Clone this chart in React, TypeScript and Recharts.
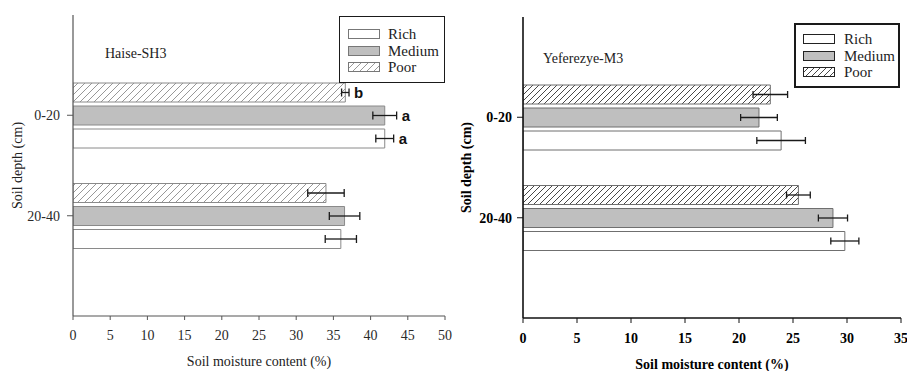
import React from "react"
import { BarChart, Bar, XAxis, YAxis, ErrorBar, LabelList, Legend } from "recharts"

const depths = ["0-20", "20-40"]

// Haise-SH3 (left panel)
const haiseRich = [41.9, 36.0]
const haiseRichErr = [1.2, 2.1]
const haiseMedium = [41.9, 36.5]
const haiseMediumErr = [1.6, 2.05]
const haisePoor = [36.6, 34.0]
const haisePoorErr = [0.5, 2.45]
const haiseRichSig = ["a", ""]
const haiseMediumSig = ["a", ""]
const haisePoorSig = ["b", ""]
const haiseTicks = [0, 5, 10, 15, 20, 25, 30, 35, 40, 45, 50]

// Yeferezye-M3 (right panel)
const yefRich = [23.9, 29.8]
const yefRichErr = [2.25, 1.3]
const yefMedium = [21.85, 28.7]
const yefMediumErr = [1.7, 1.35]
const yefPoor = [22.9, 25.5]
const yefPoorErr = [1.6, 1.1]
const yefTicks = [0, 5, 10, 15, 20, 25, 30, 35]

const legendNames = ["Rich", "Medium", "Poor"]

const SERIF = "'Liberation Serif', 'Times New Roman', serif"

const haiseData = depths.map((depth, i) => ({
  depth,
  rich: haiseRich[i],
  richErr: haiseRichErr[i],
  richSig: haiseRichSig[i],
  medium: haiseMedium[i],
  mediumErr: haiseMediumErr[i],
  mediumSig: haiseMediumSig[i],
  poor: haisePoor[i],
  poorErr: haisePoorErr[i],
  poorSig: haisePoorSig[i],
}))

const yefData = depths.map((depth, i) => ({
  depth,
  rich: yefRich[i],
  richErr: yefRichErr[i],
  richSig: "",
  medium: yefMedium[i],
  mediumErr: yefMediumErr[i],
  mediumSig: "",
  poor: yefPoor[i],
  poorErr: yefPoorErr[i],
  poorSig: "",
}))

// significance letter placed just right of the error bar
const sigLabel = (data: any[], key: string) => (props: any) => {
  const { x, y, width, height, value, index } = props
  if (!value) return null
  const row = data[index]
  const pxPerUnit = width / row[key]
  const ex = x + width + row[key + "Err"] * pxPerUnit
  return (
    <text
      x={ex + 5}
      y={y + height / 2}
      dy="0.36em"
      fontFamily="'Liberation Sans', Arial, sans-serif"
      fontWeight="bold"
      fontSize={15}
      fill="#111"
    >
      {value}
    </text>
  )
}

const XTitle = (props: any) => {
  const { viewBox, text, bold, dy } = props
  return (
    <text
      x={viewBox.x + viewBox.width / 2}
      y={viewBox.y + dy}
      textAnchor="middle"
      fontFamily={SERIF}
      fontSize={14}
      fontWeight={bold ? "bold" : "normal"}
      fill={bold ? "#000" : "#222"}
    >
      {text}
    </text>
  )
}

const YTitle = (props: any) => {
  const { viewBox, text, bold, dx } = props
  const cx = viewBox.x + dx
  const cy = viewBox.y + viewBox.height / 2
  return (
    <text
      x={cx}
      y={cy}
      transform={`rotate(-90 ${cx} ${cy})`}
      textAnchor="middle"
      dy="0.35em"
      fontFamily={SERIF}
      fontSize={14}
      fontWeight={bold ? "bold" : "normal"}
      fill={bold ? "#000" : "#222"}
    >
      {text}
    </text>
  )
}

function Panel({ cfg }: { cfg: any }) {
  const fills: any = {
    Rich: { fill: "#fff", stroke: cfg.barStroke },
    Medium: { fill: "#bfbfbf", stroke: cfg.barStroke },
    Poor: { fill: `url(#${cfg.hatchId})`, stroke: cfg.barStroke },
  }

  const renderLegend = () => (
    <div
      style={{
        width: cfg.legend.w,
        height: cfg.legend.h,
        boxSizing: "border-box",
        border: `${cfg.legend.border}px solid #1a1a1a`,
        background: "#fff",
        paddingTop: cfg.legend.padTop,
        paddingLeft: cfg.legend.padLeft,
        fontFamily: SERIF,
        fontSize: 15,
        color: "#222",
      }}
    >
      {legendNames.map((n) => (
        <div key={n} style={{ display: "flex", alignItems: "center", height: 16.5 }}>
          <svg width={32} height={10} style={{ display: "block" }}>
            <rect x={0.5} y={0.5} width={31} height={9} fill={fills[n].fill} stroke={cfg.legendSwatchStroke} strokeWidth={1} />
          </svg>
          <span style={{ marginLeft: cfg.legend.textGap, lineHeight: "16px" }}>{n}</span>
        </div>
      ))}
    </div>
  )

  const tickStyle = {
    fontFamily: SERIF,
    fontSize: 14,
    fontWeight: cfg.bold ? "bold" : "normal",
    fill: cfg.textColor,
  }

  return (
    <div style={{ position: "absolute", left: cfg.left, top: 0 }}>
      <BarChart
        width={cfg.width}
        height={371}
        data={cfg.data}
        layout="vertical"
        margin={cfg.margin}
        barSize={19}
        barGap={4}
      >
        <defs>
          <pattern id={cfg.hatchId} width={cfg.hatchStep} height={cfg.hatchStep} patternUnits="userSpaceOnUse">
            <rect width={cfg.hatchStep} height={cfg.hatchStep} fill="#fff" />
            <path
              d={`M-1,1 l2,-2 M0,${cfg.hatchStep} l${cfg.hatchStep},-${cfg.hatchStep} M${cfg.hatchStep - 1},${cfg.hatchStep + 1} l2,-2`}
              stroke={cfg.hatchColor}
              strokeWidth={cfg.hatchWidth}
            />
          </pattern>
        </defs>
        <XAxis
          type="number"
          domain={[0, cfg.max]}
          ticks={cfg.ticks}
          interval={0}
          allowDataOverflow
          tickSize={cfg.xTickSize}
          tickMargin={cfg.xTickMargin}
          height={cfg.xAxisHeight}
          stroke={cfg.axisColor}
          axisLine={{ stroke: cfg.axisColor, strokeWidth: cfg.axisWidth }}
          tickLine={{ stroke: cfg.axisColor }}
          tick={tickStyle}
          label={<XTitle text="Soil moisture content (%)" bold={cfg.bold} dy={cfg.xTitleDy} />}
        />
        <XAxis
          xAxisId="frame"
          orientation="top"
          type="number"
          domain={[0, cfg.max]}
          height={0}
          tick={false}
          tickLine={false}
          axisLine={{ stroke: cfg.axisColor, strokeWidth: cfg.axisWidth }}
        />
        <YAxis
          type="category"
          dataKey="depth"
          width={cfg.yAxisWidth}
          padding={{ top: 50, bottom: 50 }}
          tickSize={6}
          tickMargin={cfg.yTickMargin}
          axisLine={{ stroke: cfg.axisColor, strokeWidth: cfg.axisWidth }}
          tickLine={{ stroke: cfg.axisColor }}
          tick={tickStyle}
          label={<YTitle text="Soil depth (cm)" bold={cfg.bold} dx={cfg.yTitleDx} />}
        />
        <YAxis
          yAxisId="frame"
          orientation="right"
          type="category"
          dataKey="depth"
          width={0}
          tick={false}
          tickLine={false}
          axisLine={{ stroke: cfg.axisColor, strokeWidth: cfg.axisWidth }}
        />
        <Legend
          layout="vertical"
          align="center"
          verticalAlign="middle"
          content={renderLegend}
          wrapperStyle={{ left: cfg.legend.x, top: cfg.legend.y, width: cfg.legend.w, height: cfg.legend.h }}
        />
        <Bar dataKey="poor" name="Poor" fill={fills.Poor.fill} stroke={cfg.barStroke} isAnimationActive={false}>
          <ErrorBar dataKey="poorErr" direction="x" width={cfg.capHalf} stroke="#1a1a1a" strokeWidth={1.3} />
          <LabelList dataKey="poorSig" content={sigLabel(cfg.data, "poor")} />
        </Bar>
        <Bar dataKey="medium" name="Medium" fill={fills.Medium.fill} stroke={cfg.barStroke} isAnimationActive={false}>
          <ErrorBar dataKey="mediumErr" direction="x" width={cfg.capHalf} stroke="#1a1a1a" strokeWidth={1.3} />
          <LabelList dataKey="mediumSig" content={sigLabel(cfg.data, "medium")} />
        </Bar>
        <Bar dataKey="rich" name="Rich" fill={fills.Rich.fill} stroke={cfg.barStroke} isAnimationActive={false}>
          <ErrorBar dataKey="richErr" direction="x" width={cfg.capHalf} stroke="#1a1a1a" strokeWidth={1.3} />
          <LabelList dataKey="richSig" content={sigLabel(cfg.data, "rich")} />
        </Bar>
        <text x={cfg.nameX} y={cfg.nameY} fontFamily={SERIF} fontSize={14} fill="#222">
          {cfg.name}
        </text>
      </BarChart>
    </div>
  )
}

const leftCfg = {
  left: 0,
  width: 460,
  data: haiseData,
  max: 50,
  ticks: haiseTicks,
  margin: { top: 15, right: 15, bottom: 0, left: 0 },
  xAxisHeight: 55,
  yAxisWidth: 73,
  xTickSize: 4,
  xTickMargin: 10,
  yTickMargin: 7,
  xTitleDy: 50,
  yTitleDx: 17,
  bold: false,
  textColor: "#2a2a2a",
  axisColor: "#555",
  axisWidth: 1.2,
  barStroke: "#8a8a8a",
  hatchId: "hatchHaise",
  hatchStep: 7,
  hatchColor: "#8c8c8c",
  hatchWidth: 0.9,
  capHalf: 4,
  legendSwatchStroke: "#777",
  legend: { x: 339, y: 16, w: 106, h: 67, border: 1.5, padTop: 9, padLeft: 8, textGap: 8 },
  name: "Haise-SH3",
  nameX: 105,
  nameY: 58,
}

const rightCfg = {
  left: 450,
  width: 457,
  data: yefData,
  max: 35,
  ticks: yefTicks,
  margin: { top: 17, right: 6, bottom: 0, left: 0 },
  xAxisHeight: 53,
  yAxisWidth: 73,
  xTickSize: 5,
  xTickMargin: 10,
  yTickMargin: 5,
  xTitleDy: 51,
  yTitleDx: 16,
  bold: true,
  textColor: "#000",
  axisColor: "#111",
  axisWidth: 1.6,
  barStroke: "#6f6f6f",
  hatchId: "hatchYef",
  hatchStep: 6,
  hatchColor: "#333",
  hatchWidth: 0.9,
  capHalf: 3.5,
  legendSwatchStroke: "#222",
  legend: { x: 344, y: 23, w: 106, h: 65, border: 2, padTop: 6, padLeft: 7, textGap: 9 },
  name: "Yeferezye-M3",
  nameX: 93,
  nameY: 63,
}

export default function App() {
  return (
    <div style={{ position: "absolute", left: 0, top: 0, width: 907, height: 371, background: "#fff" }}>
      <Panel cfg={leftCfg} />
      <Panel cfg={rightCfg} />
    </div>
  )
}
